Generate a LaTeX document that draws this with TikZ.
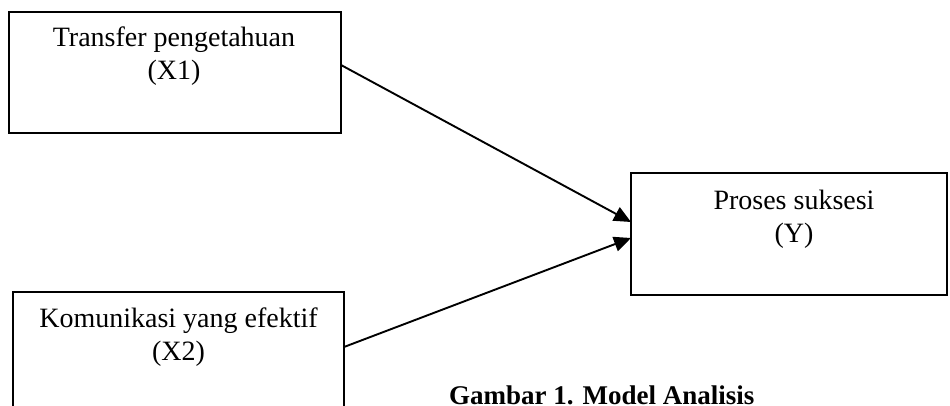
\documentclass[tikz,border=0pt]{standalone}
\usepackage{fontspec}
\setmainfont{Liberation Serif}
\usetikzlibrary{arrows.meta}
\begin{document}
\begin{tikzpicture}[x=1pt,y=-1pt,
  boxstyle/.style={draw=black,line width=2.6pt,rectangle,inner sep=0pt},
  lbl/.style={align=center,font=\fontsize{28}{33}\selectfont,inner sep=0pt,anchor=base},
  conn/.style={line width=1.9pt,-{Triangle[length=17pt,width=15pt]}},
  captionstyle/.style={font=\fontsize{27}{31}\selectfont\bfseries,inner sep=0pt,anchor=base west}]
\useasboundingbox (0,0) rectangle (950,406);
\clip (0,0) rectangle (950,406);
\fill[white] (0,0) rectangle (950,406);
% boxes
\node[boxstyle,minimum width=332pt,minimum height=121pt] (b1) at (175,72.5) {};
\node[boxstyle,minimum width=316pt,minimum height=122pt] (b2) at (789,234) {};
\node[boxstyle,minimum width=331pt,minimum height=150pt] (b3) at (178.5,367) {};
% texts (anchor = baseline of the last line)
\node[lbl] (t1) at (174,79.5) {Transfer pengetahuan\\(X1)};
\node[lbl] (t2) at (794,242) {Proses suksesi\\(Y)};
\node[lbl] (t3) at (178.5,360) {Komunikasi yang efektif\\(X2)};
% connector end points on the borders
\coordinate (s1) at (341,65);
\coordinate (e1) at (631,222);
\coordinate (s2) at (344,347);
\coordinate (e2) at (631,238);
\draw[conn] (s1) -- (e1);
\draw[conn] (s2) -- (e2);
% caption
\node[captionstyle] (cap) at (449,404.5) {Gambar 1. Model Analisis};
\end{tikzpicture}
\end{document}
